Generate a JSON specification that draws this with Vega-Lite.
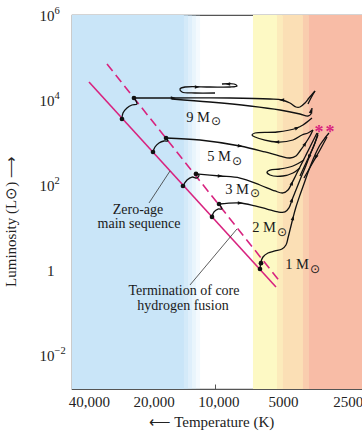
{
  "$schema": "https://vega.github.io/schema/vega-lite/v6.json",
  "width": 292,
  "height": 374,
  "autosize": {"type": "none"},
  "padding": {"left": 72, "top": 15, "right": 0, "bottom": 42},
  "background": "white",
  "config": {
    "font": "Liberation Serif",
    "view": {"stroke": "#555555", "strokeWidth": 1.2}
  },
  "datasets": {
    "bands": [
      {"T": 46450, "T2": 14000, "L": 0.001585, "L2": 1000000, "c": "#c9e5f8", "op": 1},
      {"T": 14000, "T2": 13410, "L": 0.001585, "L2": 1000000, "c": "#c9e5f8", "op": 0.8},
      {"T": 13410, "T2": 12850, "L": 0.001585, "L2": 1000000, "c": "#c9e5f8", "op": 0.6},
      {"T": 12850, "T2": 12310, "L": 0.001585, "L2": 1000000, "c": "#c9e5f8", "op": 0.4},
      {"T": 12310, "T2": 11790, "L": 0.001585, "L2": 1000000, "c": "#c9e5f8", "op": 0.2},
      {"T": 6686, "T2": 5170, "L": 0.001585, "L2": 1000000, "c": "#fdf9c4", "op": 1},
      {"T": 5170, "T2": 4849, "L": 0.001585, "L2": 1000000, "c": "#fcebbb", "op": 1},
      {"T": 4849, "T2": 3914, "L": 0.001585, "L2": 1000000, "c": "#fbdfb5", "op": 1},
      {"T": 3914, "T2": 3670, "L": 0.001585, "L2": 1000000, "c": "#f9cdae", "op": 1},
      {"T": 3670, "T2": 2036, "L": 0.001585, "L2": 1000000, "c": "#f8bca6", "op": 1}
    ],
    "zams": [{"T": 38720, "L": 26510}, {"T": 5226, "L": 0.398}],
    "tams": [{"T": 31930, "L": 70310}, {"T": 4953, "L": 0.494}],
    "pointers": [
      {"T": 20360, "L": 37.7, "T2": 16260, "L2": 213.5},
      {"T": 13130, "L": 0.4437, "T2": 7938, "L2": 9.22}
    ],
    "tracks": [
      {"id": "h9", "o": 0, "T": 27200, "L": 3573},
      {"id": "h9", "o": 1, "T": 26910, "L": 4943},
      {"id": "h9", "o": 2, "T": 25780, "L": 6483},
      {"id": "h9", "o": 3, "T": 24440, "L": 7627},
      {"id": "h9", "o": 4, "T": 23160, "L": 8054},
      {"id": "h9", "o": 5, "T": 23920, "L": 11150},
      {"id": "m9", "o": 0, "T": 23920, "L": 11150},
      {"id": "m9", "o": 1, "T": 15750, "L": 11150},
      {"id": "m9", "o": 2, "T": 8553, "L": 11150},
      {"id": "m9", "o": 3, "T": 5573, "L": 10560},
      {"id": "m9", "o": 4, "T": 4901, "L": 10000},
      {"id": "m9", "o": 5, "T": 4499, "L": 8500},
      {"id": "m9", "o": 6, "T": 4219, "L": 6843},
      {"id": "m9", "o": 7, "T": 4042, "L": 6843},
      {"id": "m9", "o": 8, "T": 3831, "L": 8500},
      {"id": "m9", "o": 9, "T": 3670, "L": 11150},
      {"id": "m9", "o": 10, "T": 3442, "L": 16290},
      {"id": "r9", "o": 0, "T": 3442, "L": 16290},
      {"id": "r9", "o": 1, "T": 3593, "L": 11150},
      {"id": "r9", "o": 2, "T": 3710, "L": 8054},
      {"id": "l9", "o": 0, "T": 15920, "L": 10560},
      {"id": "l9", "o": 1, "T": 10600, "L": 8974},
      {"id": "l9", "o": 2, "T": 6904, "L": 7224},
      {"id": "l9", "o": 3, "T": 5007, "L": 5817},
      {"id": "l9", "o": 4, "T": 4042, "L": 4683},
      {"id": "l9", "o": 5, "T": 3710, "L": 4202},
      {"id": "l9", "o": 6, "T": 3593, "L": 4683},
      {"id": "l9", "o": 7, "T": 3554, "L": 6483},
      {"id": "p9", "o": 0, "T": 9319, "L": 23790},
      {"id": "p9", "o": 1, "T": 8195, "L": 23790},
      {"id": "p9", "o": 2, "T": 7938, "L": 21350},
      {"id": "p9", "o": 3, "T": 8553, "L": 20230},
      {"id": "p9", "o": 4, "T": 10600, "L": 20230},
      {"id": "p9", "o": 5, "T": 13850, "L": 20230},
      {"id": "p9", "o": 6, "T": 14610, "L": 18150},
      {"id": "p9", "o": 7, "T": 14300, "L": 15430},
      {"id": "p9", "o": 8, "T": 12440, "L": 14610},
      {"id": "p9", "o": 9, "T": 10040, "L": 14610},
      {"id": "h5", "o": 0, "T": 19510, "L": 598},
      {"id": "h5", "o": 1, "T": 19100, "L": 784},
      {"id": "h5", "o": 2, "T": 18300, "L": 973},
      {"id": "h5", "o": 3, "T": 17340, "L": 1085},
      {"id": "h5", "o": 4, "T": 16620, "L": 1085},
      {"id": "h5", "o": 5, "T": 16970, "L": 1276},
      {"id": "m5", "o": 0, "T": 16970, "L": 1276},
      {"id": "m5", "o": 1, "T": 11790, "L": 1145},
      {"id": "m5", "o": 2, "T": 7685, "L": 827},
      {"id": "m5", "o": 3, "T": 5879, "L": 598},
      {"id": "m5", "o": 4, "T": 5007, "L": 481},
      {"id": "m5", "o": 5, "T": 4499, "L": 432},
      {"id": "m5", "o": 6, "T": 4219, "L": 481},
      {"id": "m5", "o": 7, "T": 4042, "L": 631},
      {"id": "m5", "o": 8, "T": 3831, "L": 922},
      {"id": "m5", "o": 9, "T": 3631, "L": 1422},
      {"id": "m5", "o": 10, "T": 3517, "L": 1968},
      {"id": "p5", "o": 0, "T": 3517, "L": 1968},
      {"id": "p5", "o": 1, "T": 3710, "L": 1673},
      {"id": "p5", "o": 2, "T": 3956, "L": 1502},
      {"id": "p5", "o": 3, "T": 4357, "L": 1145},
      {"id": "p5", "o": 4, "T": 5170, "L": 1027},
      {"id": "p5", "o": 5, "T": 6544, "L": 1347},
      {"id": "p5", "o": 6, "T": 6758, "L": 1502},
      {"id": "p5", "o": 7, "T": 6544, "L": 1673},
      {"id": "p5", "o": 8, "T": 5170, "L": 1766},
      {"id": "p5", "o": 9, "T": 4174, "L": 2193},
      {"id": "p5", "o": 10, "T": 3914, "L": 2581},
      {"id": "p5", "o": 11, "T": 3554, "L": 3772},
      {"id": "h3", "o": 0, "T": 14150, "L": 94.7},
      {"id": "h3", "o": 1, "T": 13550, "L": 131},
      {"id": "h3", "o": 2, "T": 12850, "L": 154},
      {"id": "h3", "o": 3, "T": 12180, "L": 146},
      {"id": "h3", "o": 4, "T": 11920, "L": 172},
      {"id": "h3", "o": 5, "T": 12310, "L": 182},
      {"id": "m3", "o": 0, "T": 12310, "L": 182},
      {"id": "m3", "o": 1, "T": 9520, "L": 163},
      {"id": "m3", "o": 2, "T": 7685, "L": 146},
      {"id": "m3", "o": 3, "T": 6203, "L": 100},
      {"id": "m3", "o": 4, "T": 5282, "L": 72.3},
      {"id": "m3", "o": 5, "T": 4849, "L": 64.9},
      {"id": "m3", "o": 6, "T": 4596, "L": 76.2},
      {"id": "m3", "o": 7, "T": 4403, "L": 111.4},
      {"id": "m3", "o": 8, "T": 4219, "L": 172},
      {"id": "m3", "o": 9, "T": 4042, "L": 265},
      {"id": "m3", "o": 10, "T": 3831, "L": 456},
      {"id": "m3", "o": 11, "T": 3631, "L": 784},
      {"id": "m3", "o": 12, "T": 3479, "L": 1209},
      {"id": "m3", "o": 13, "T": 3369, "L": 1673},
      {"id": "p3", "o": 0, "T": 3872, "L": 387},
      {"id": "p3", "o": 1, "T": 4357, "L": 280},
      {"id": "p3", "o": 2, "T": 5007, "L": 238},
      {"id": "p3", "o": 3, "T": 5573, "L": 225},
      {"id": "p3", "o": 4, "T": 5755, "L": 202},
      {"id": "p3", "o": 5, "T": 5573, "L": 172},
      {"id": "p3", "o": 6, "T": 4849, "L": 163},
      {"id": "p3", "o": 7, "T": 4357, "L": 191.6},
      {"id": "p3", "o": 8, "T": 4042, "L": 251},
      {"id": "h2", "o": 0, "T": 10370, "L": 17.7},
      {"id": "h2", "o": 1, "T": 10150, "L": 23.2},
      {"id": "h2", "o": 2, "T": 9726, "L": 27.2},
      {"id": "h2", "o": 3, "T": 9319, "L": 27.2},
      {"id": "h2", "o": 4, "T": 9622, "L": 35.7},
      {"id": "m2", "o": 0, "T": 9622, "L": 35.7},
      {"id": "m2", "o": 1, "T": 7685, "L": 37.7},
      {"id": "m2", "o": 2, "T": 6544, "L": 32.1},
      {"id": "m2", "o": 3, "T": 5755, "L": 27.2},
      {"id": "m2", "o": 4, "T": 5115, "L": 23.2},
      {"id": "m2", "o": 5, "T": 4746, "L": 23.2},
      {"id": "m2", "o": 6, "T": 4547, "L": 28.8},
      {"id": "m2", "o": 7, "T": 4403, "L": 44.4},
      {"id": "m2", "o": 8, "T": 4219, "L": 76.2},
      {"id": "m2", "o": 9, "T": 4042, "L": 131},
      {"id": "m2", "o": 10, "T": 3831, "L": 251},
      {"id": "m2", "o": 11, "T": 3631, "L": 508},
      {"id": "m2", "o": 12, "T": 3442, "L": 973},
      {"id": "m2", "o": 13, "T": 3333, "L": 1673},
      {"id": "m1", "o": 0, "T": 6203, "L": 1.056},
      {"id": "m1", "o": 1, "T": 6137, "L": 1.542},
      {"id": "m1", "o": 2, "T": 6007, "L": 2.022},
      {"id": "m1", "o": 3, "T": 5693, "L": 2.512},
      {"id": "m1", "o": 4, "T": 5282, "L": 2.8},
      {"id": "m1", "o": 5, "T": 4901, "L": 3.12},
      {"id": "m1", "o": 6, "T": 4696, "L": 3.87},
      {"id": "m1", "o": 7, "T": 4596, "L": 5.66},
      {"id": "m1", "o": 8, "T": 4499, "L": 8.73},
      {"id": "m1", "o": 9, "T": 4357, "L": 16.7},
      {"id": "m1", "o": 10, "T": 4219, "L": 30.3},
      {"id": "m1", "o": 11, "T": 4042, "L": 58.2},
      {"id": "m1", "o": 12, "T": 3831, "L": 124.2},
      {"id": "m1", "o": 13, "T": 3631, "L": 265},
      {"id": "m1", "o": 14, "T": 3442, "L": 508},
      {"id": "m1", "o": 15, "T": 3263, "L": 873},
      {"id": "m1", "o": 16, "T": 3093, "L": 1276},
      {"id": "m1", "o": 17, "T": 2963, "L": 1673},
      {"id": "ra", "o": 0, "T": 3333, "L": 1502},
      {"id": "ra", "o": 1, "T": 3554, "L": 666},
      {"id": "ra", "o": 2, "T": 3790, "L": 330},
      {"id": "ra", "o": 3, "T": 4042, "L": 163},
      {"id": "rb", "o": 0, "T": 3027, "L": 1347},
      {"id": "rb", "o": 1, "T": 3263, "L": 666},
      {"id": "rb", "o": 2, "T": 3554, "L": 312},
      {"id": "rb", "o": 3, "T": 3872, "L": 146}
    ],
    "arrows": [
      {"T": 15750, "L": 11150, "a": 90},
      {"T": 4901, "L": 10000, "a": 270},
      {"T": 12180, "L": 20230, "a": 90},
      {"T": 8739, "L": 23790, "a": 270},
      {"T": 3593, "L": 5508, "a": 10},
      {"T": 7685, "L": 827, "a": 97},
      {"T": 5170, "L": 1027, "a": 270},
      {"T": 4174, "L": 2193, "a": 65},
      {"T": 3831, "L": 922, "a": 30},
      {"T": 9520, "L": 163, "a": 92},
      {"T": 4403, "L": 111.4, "a": 20},
      {"T": 7685, "L": 37.7, "a": 90},
      {"T": 4403, "L": 44.4, "a": 20},
      {"T": 4357, "L": 16.7, "a": 15},
      {"T": 3670, "L": 456, "a": 200},
      {"T": 3405, "L": 456, "a": 205}
    ],
    "dots": [
      {"T": 27200, "L": 3573},
      {"T": 23920, "L": 11150},
      {"T": 19510, "L": 598},
      {"T": 16970, "L": 1276},
      {"T": 14150, "L": 94.7},
      {"T": 12310, "L": 182},
      {"T": 10370, "L": 17.7},
      {"T": 9622, "L": 35.7},
      {"T": 6203, "L": 1.056},
      {"T": 6137, "L": 1.45}
    ],
    "masses": [
      {"T": 10600, "L": 3772, "t": "9 M"},
      {"T": 8462, "L": 456, "t": "5 M"},
      {"T": 6978, "L": 76.2, "t": "3 M"},
      {"T": 5226, "L": 9.73, "t": "2 M"},
      {"T": 3670, "L": 1.311, "t": "1 M"}
    ],
    "suns": [
      {"T": 10483, "L": 3120, "t": "⊙"},
      {"T": 8372, "L": 377, "t": "⊙"},
      {"T": 6904, "L": 63.1, "t": "⊙"},
      {"T": 5170, "L": 8.05, "t": "⊙"},
      {"T": 3631, "L": 1.0846, "t": "⊙"}
    ],
    "labels": [
      {"T": 22910, "L": 26.5, "t": "Zero-age"},
      {"T": 22670, "L": 11.77, "t": "main sequence"},
      {"T": 14000, "L": 0.3206, "t": "Termination of core"},
      {"T": 14150, "L": 0.1422, "t": "hydrogen fusion"}
    ],
    "exps": [
      {"T": 56030, "L": 1241800, "t": "6"},
      {"T": 56030, "L": 12418, "t": "4"},
      {"T": 56030, "L": 124.18, "t": "2"},
      {"T": 56030, "L": 0.012418, "t": "−2"}
    ],
    "stars": [
      {"T": 3298, "L": 1311, "t": "*"},
      {"T": 2931, "L": 1311, "t": "*"}
    ]
  },
  "encoding": {
    "x": {
      "field": "T",
      "type": "quantitative",
      "scale": {"type": "log", "domain": [2036, 46450], "reverse": true, "nice": false},
      "axis": {
        "values": [40000, 20000, 10000, 5000, 2500],
        "labelExpr": "datum.value >= 10000 ? format(datum.value, ',') : format(datum.value, 'd')",
        "title": "⟵ Temperature (K)",
        "grid": false,
        "tickSize": -5,
        "tickColor": "#555555",
        "domainColor": "#555555",
        "labelFontSize": 15,
        "labelColor": "#222222",
        "labelPadding": 10,
        "labelOffset": 3,
        "labelFlush": false,
        "labelOverlap": false,
        "titleFontSize": 15,
        "titleFontWeight": "normal",
        "titleColor": "#222222",
        "titleX": 139,
        "titleY": 25
      }
    },
    "y": {
      "field": "L",
      "type": "quantitative",
      "scale": {"type": "log", "domain": [0.001585, 1000000], "nice": false},
      "axis": {
        "values": [0.01, 1, 100, 10000, 1000000],
        "labelExpr": "datum.value > 0.5 && datum.value < 2 ? '1' : '10'",
        "title": "Luminosity (L⊙) ⟶",
        "grid": false,
        "tickSize": -5,
        "tickColor": "#555555",
        "domainColor": "#555555",
        "labelFontSize": 15,
        "labelColor": "#222222",
        "labelPadding": 23,
        "labelFlush": false,
        "labelOverlap": false,
        "titleFontSize": 15,
        "titleFontWeight": "normal",
        "titleColor": "#222222",
        "titleX": -54,
        "titleY": 206
      }
    }
  },
  "layer": [
    {
      "data": {"name": "bands"},
      "mark": {"type": "rect"},
      "encoding": {
        "x2": {"field": "T2"},
        "y2": {"field": "L2"},
        "color": {"field": "c", "type": "nominal", "scale": null},
        "opacity": {"field": "op", "type": "quantitative", "scale": null}
      }
    },
    {
      "data": {"name": "zams"},
      "mark": {"type": "line", "color": "#d8237f", "strokeWidth": 1.6},
      "encoding": {}
    },
    {
      "data": {"name": "tams"},
      "mark": {"type": "line", "color": "#d8237f", "strokeWidth": 1.6, "strokeDash": [9, 5]},
      "encoding": {}
    },
    {
      "data": {"name": "pointers"},
      "mark": {"type": "rule", "color": "#333333", "strokeWidth": 0.8},
      "encoding": {"x2": {"field": "T2"}, "y2": {"field": "L2"}}
    },
    {
      "data": {"name": "tracks"},
      "mark": {"type": "line", "color": "#111111", "strokeWidth": 1.3, "interpolate": "catmull-rom"},
      "encoding": {
        "detail": {"field": "id", "type": "nominal"},
        "order": {"field": "o", "type": "quantitative"}
      }
    },
    {
      "data": {"name": "arrows"},
      "mark": {"type": "point", "shape": "M0,-1L0.65,0.8L-0.65,0.8Z", "filled": true, "color": "#111111", "size": 30, "opacity": 1},
      "encoding": {"angle": {"field": "a", "type": "quantitative", "scale": null}}
    },
    {
      "data": {"name": "dots"},
      "mark": {"type": "circle", "color": "#111111", "size": 22, "opacity": 1}
    },
    {
      "data": {"name": "masses"},
      "mark": {"type": "text", "fontSize": 14.5, "color": "#1a1a1a", "align": "right", "baseline": "middle"},
      "encoding": {"text": {"field": "t"}}
    },
    {
      "data": {"name": "suns"},
      "mark": {"type": "text", "font": "DejaVu Sans", "fontSize": 12, "color": "#1a1a1a", "align": "left", "baseline": "middle"},
      "encoding": {"text": {"field": "t"}}
    },
    {
      "data": {"name": "labels"},
      "mark": {"type": "text", "fontSize": 14, "color": "#1a1a1a", "align": "center", "baseline": "middle"},
      "encoding": {"text": {"field": "t"}}
    },
    {
      "data": {"name": "exps"},
      "mark": {"type": "text", "fontSize": 10.5, "color": "#222222", "align": "left", "baseline": "middle"},
      "encoding": {"text": {"field": "t"}}
    },
    {
      "data": {"name": "stars"},
      "mark": {"type": "text", "fontSize": 18, "fontWeight": "bold", "color": "#d8237f", "align": "center", "baseline": "alphabetic"},
      "encoding": {"text": {"field": "t"}}
    }
  ]
}
